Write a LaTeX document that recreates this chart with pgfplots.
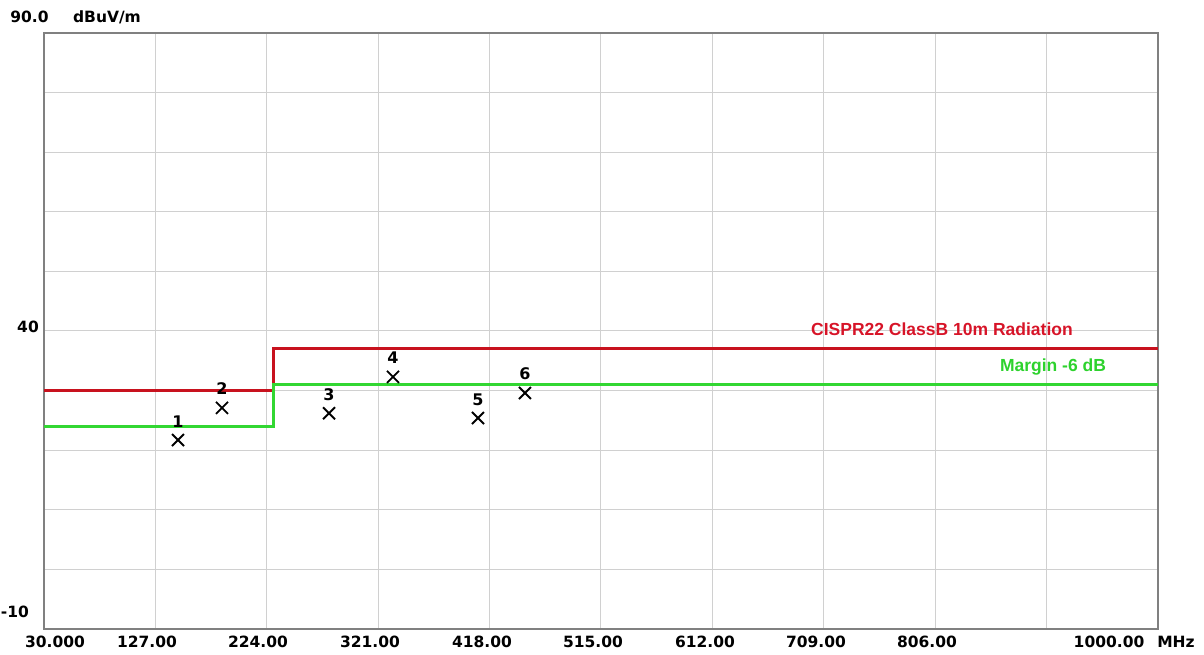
\documentclass[border=0pt]{standalone}
\usepackage{fontspec}
\setmainfont{Liberation Sans}
\newfontfamily\dvs{DejaVu Sans}
\usepackage{pgfplots}
\pgfplotsset{compat=1.18}
\definecolor{limred}{RGB}{200,18,30}
\definecolor{margreen}{RGB}{50,215,50}
\definecolor{txtred}{RGB}{215,20,40}
\definecolor{txtgreen}{RGB}{45,210,45}
\definecolor{gridgray}{RGB}{208,208,208}
\definecolor{framegray}{RGB}{128,128,128}
\begin{document}
\begin{tikzpicture}
\path[use as bounding box] (0pt,0pt) rectangle (1204pt,655pt);
\begin{axis}[
  at={(44pt,26pt)}, anchor=south west,
  scale only axis, width=1114pt, height=596pt,
  xmin=30, xmax=1000, ymin=-10, ymax=90,
  xtick={30,127,224,321,418,515,612,709,806,903,1000},
  ytick={-10,0,10,20,30,40,50,60,70,80,90},
  xticklabels={}, yticklabels={},
  major tick length=0pt,
  grid=major,
  major grid style={gridgray, line width=1pt},
  axis line style={framegray, line width=2.2pt},
  every node near coord/.append style={anchor=base, yshift=13pt, font=\dvs\bfseries\fontsize{16}{19}\selectfont, text=black},
]
\addplot[limred, line width=2.8pt, const plot, forget plot] coordinates {(30,30) (230,30) (230,37) (1000,37)};
\addplot[margreen, line width=2.8pt, const plot, forget plot] coordinates {(30,24) (230,24) (230,31) (1000,31)};
\addplot[only marks, mark=x, mark size=8.5pt, mark options={line width=1.9pt, black},
  nodes near coords, point meta=explicit symbolic] table[meta=lab] {
x y lab
146.7 21.7 1
185.0 27.1 2
278.2 26.2 3
333.9 32.3 4
407.9 25.4 5
448.8 29.6 6
};
\end{axis}
\begin{scope}[every node/.style={font=\dvs\bfseries\fontsize{15.5}{18}\selectfont, anchor=base, inner sep=0pt}]
\node at (29.5pt,632pt) {90.0};
\node at (107pt,632pt) {dBuV/m};
\node at (28pt,322pt) {40};
\node at (15pt,37pt) {-10};
\node at (55pt,7pt) {30.000};
\node at (147pt,7pt) {127.00};
\node at (258pt,7pt) {224.00};
\node at (370pt,7pt) {321.00};
\node at (482pt,7pt) {418.00};
\node at (593pt,7pt) {515.00};
\node at (705pt,7pt) {612.00};
\node at (816pt,7pt) {709.00};
\node at (927pt,7pt) {806.00};
\node at (1109pt,7pt) {1000.00};
\node at (1176pt,7pt) {MHz};
\end{scope}
\begin{scope}[every node/.style={font=\bfseries\fontsize{17.5}{20}\selectfont, anchor=base, inner sep=0pt}]
\node[text=txtred] at (942pt,319pt) {CISPR22 ClassB 10m Radiation};
\node[text=txtgreen] at (1053pt,283pt) {Margin -6 dB};
\end{scope}
\end{tikzpicture}
\end{document}
